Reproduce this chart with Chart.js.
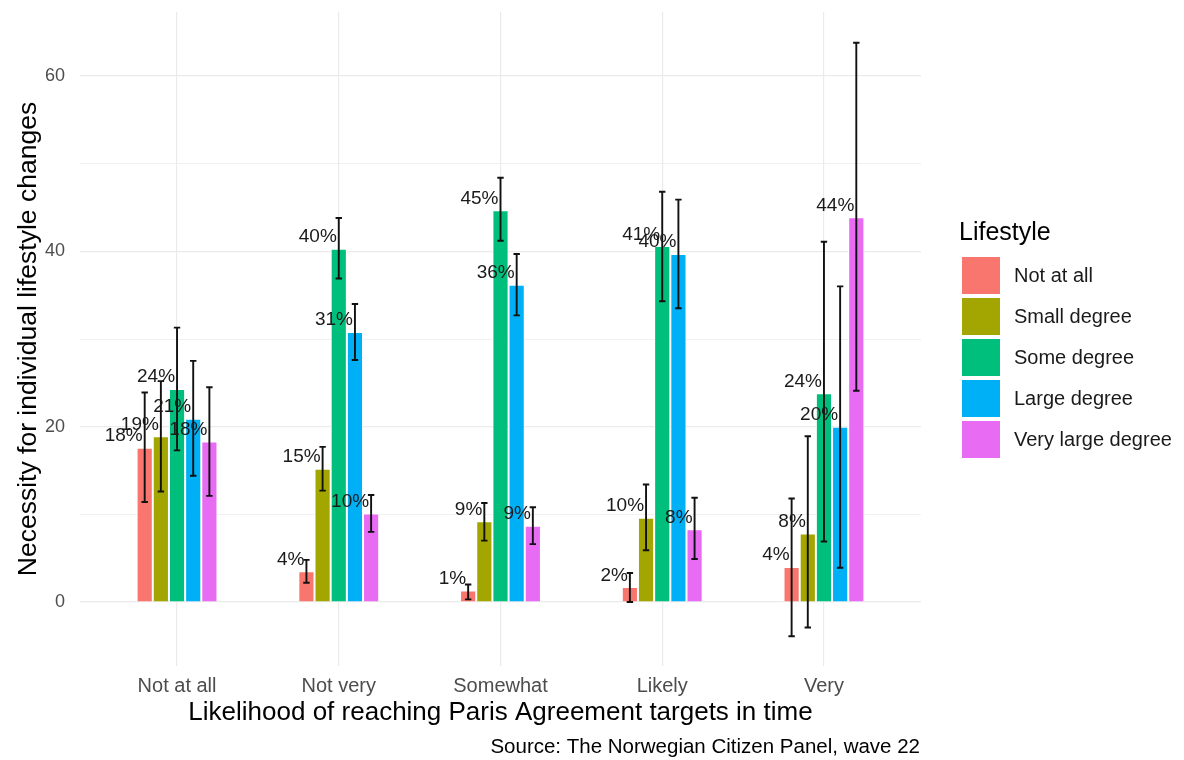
<!DOCTYPE html>
<html>
<head>
<meta charset="utf-8">
<script src="https://cdn.jsdelivr.net/npm/chart.js@4/dist/chart.umd.min.js"></script>
<style>
  html, body { margin: 0; padding: 0; background: #ffffff; }
  #wrap { width: 1184px; height: 760px; }
</style>
</head>
<body>
<div id="wrap"><canvas id="chart" width="1184" height="760"></canvas></div>
<script>
// Likelihood of reaching the Paris targets (x groups)
const groups = ['Not at all', 'Not very', 'Somewhat', 'Likely', 'Very'];

// Lifestyle answer categories (one bar series each)
const lifestyles = ['Not at all', 'Small degree', 'Some degree', 'Large degree', 'Very large degree'];
const colors = ['#F8766D', '#A3A500', '#00BF7D', '#00B0F6', '#E76BF3'];

// Share (%) per group, one array per lifestyle category
const notAtAll   = [17.6, 3.5, 1.3, 1.7, 4.0];
const small      = [18.9, 15.2, 9.2, 9.6, 7.8];
const some       = [24.3, 40.3, 44.7, 40.6, 23.8];
const large      = [20.9, 30.8, 36.2, 39.7, 20.0];
const veryLarge  = [18.3, 10.1, 8.7, 8.3, 43.9];

// Confidence interval bounds
const lowNotAtAll  = [11.4, 2.2, 0.3, 0.0, -3.9];
const lowSmall     = [12.6, 12.7, 7.0, 5.9, -2.9];
const lowSome      = [17.3, 36.9, 41.2, 34.3, 6.9];
const lowLarge     = [14.4, 27.6, 32.7, 33.5, 3.9];
const lowVeryLarge = [12.1, 8.0, 6.6, 4.9, 24.1];

const highNotAtAll  = [23.9, 4.8, 2.0, 3.3, 11.8];
const highSmall     = [25.2, 17.7, 11.3, 13.4, 18.9];
const highSome      = [31.3, 43.8, 48.4, 46.8, 41.1];
const highLarge     = [27.5, 34.0, 39.7, 45.9, 36.0];
const highVeryLarge = [24.5, 12.2, 10.8, 11.9, 63.8];

// Y axis ticks: labelled every 20, minor lines in between
const yTickLabels = [0, 20, 40, 60];

const values = [notAtAll, small, some, large, veryLarge];
const lows = [lowNotAtAll, lowSmall, lowSome, lowLarge, lowVeryLarge];
const highs = [highNotAtAll, highSmall, highSome, highLarge, highVeryLarge];

const FONT = '"Liberation Sans", Arial, Helvetica, sans-serif';

// Error bars and percentage labels on top of the bars
const barExtras = {
  id: 'barExtras',
  afterDatasetsDraw(chart) {
    const ctx = chart.ctx;
    const y = chart.scales.y;
    ctx.save();
    // error bars
    ctx.strokeStyle = '#111111';
    ctx.lineWidth = 1.9;
    chart.data.datasets.forEach((ds, i) => {
      const meta = chart.getDatasetMeta(i);
      meta.data.forEach((bar, j) => {
        const x = bar.x;
        const yHi = y.getPixelForValue(highs[i][j]);
        const yLo = y.getPixelForValue(lows[i][j]);
        ctx.beginPath();
        ctx.moveTo(x, yHi); ctx.lineTo(x, yLo);
        ctx.moveTo(x - 3.2, yHi); ctx.lineTo(x + 3.2, yHi);
        ctx.moveTo(x - 3.2, yLo); ctx.lineTo(x + 3.2, yLo);
        ctx.stroke();
      });
    });
    // value labels
    ctx.fillStyle = '#1a1a1a';
    ctx.font = '19px ' + FONT;
    ctx.textAlign = 'right';
    ctx.textBaseline = 'alphabetic';
    chart.data.datasets.forEach((ds, i) => {
      const meta = chart.getDatasetMeta(i);
      meta.data.forEach((bar, j) => {
        const v = values[i][j];
        ctx.fillText(Math.round(v) + '%', bar.x - 2, y.getPixelForValue(v) - 6.5);
      });
    });
    ctx.restore();
  }
};

// Legend on the right and source caption
const sideText = {
  id: 'sideText',
  afterDraw(chart) {
    const ctx = chart.ctx;
    ctx.save();
    ctx.fillStyle = '#000000';
    ctx.textAlign = 'left';
    ctx.textBaseline = 'middle';
    ctx.font = '25px ' + FONT;
    ctx.fillText('Lifestyle', 959, 233);
    ctx.font = '20px ' + FONT;
    lifestyles.forEach((name, i) => {
      const top = 257 + i * 41;
      ctx.fillStyle = colors[i];
      ctx.fillRect(962, top, 38, 37);
      ctx.fillStyle = '#1a1a1a';
      ctx.fillText(name, 1014, top + 19);
    });
    ctx.textAlign = 'right';
    ctx.font = '20.5px ' + FONT;
    ctx.fillStyle = '#000000';
    ctx.fillText('Source: The Norwegian Citizen Panel, wave 22', 920, 747);
    ctx.restore();
  }
};

const datasets = lifestyles.map((name, i) => ({
  label: name,
  data: values[i].map((v, j) => ({ x: j, y: v })),
  backgroundColor: colors[i],
  borderColor: '#ffffff',
  borderWidth: 1,
  categoryPercentage: 0.5,
  barPercentage: 1.0
}));

new Chart(document.getElementById('chart'), {
  type: 'bar',
  data: { datasets },
  plugins: [barExtras, sideText],
  options: {
    responsive: false,
    animation: false,
    layout: { padding: { left: 0, right: 263, top: 12, bottom: 0 } },
    plugins: {
      legend: { display: false },
      tooltip: { enabled: false }
    },
    scales: {
      x: {
        type: 'linear',
        min: -0.6,
        max: 4.6,
        offset: false,
        afterFit(s) { s.height = 94; s.paddingLeft = 0; s.paddingRight = 0; },
        grid: { color: '#ebebeb', lineWidth: 1.2, drawTicks: false, offset: false },
        border: { display: false },
        ticks: {
          stepSize: 1,
          includeBounds: false,
          autoSkip: false,
          maxRotation: 0,
          padding: 8,
          color: '#4d4d4d',
          font: { family: FONT, size: 20 },
          callback: v => (Number.isInteger(v) && groups[v] !== undefined) ? groups[v] : ''
        },
        title: {
          display: true,
          text: 'Likelihood of reaching Paris Agreement targets in time',
          color: '#000000',
          font: { family: FONT, size: 26 },
          padding: { top: 0, bottom: 32 }
        }
      },
      y: {
        min: -7.3,
        max: 67.3,
        afterFit(s) { s.width = 80; s.paddingTop = 0; s.paddingBottom = 0; },
        grid: {
          color: '#ebebeb',
          lineWidth: c => (yTickLabels.includes(c.tick.value) ? 1.2 : 0.7),
          drawTicks: false
        },
        border: { display: false },
        ticks: {
          stepSize: 10,
          includeBounds: false,
          padding: 15,
          color: '#4d4d4d',
          font: { family: FONT, size: 18 },
          callback: v => (yTickLabels.includes(v) ? String(v) : '')
        },
        title: {
          display: true,
          text: 'Necessity for individual lifestyle changes',
          color: '#000000',
          font: { family: FONT, size: 26.5 },
          padding: { top: 13, bottom: 0 }
        }
      }
    }
  }
});
</script>
</body>
</html>
